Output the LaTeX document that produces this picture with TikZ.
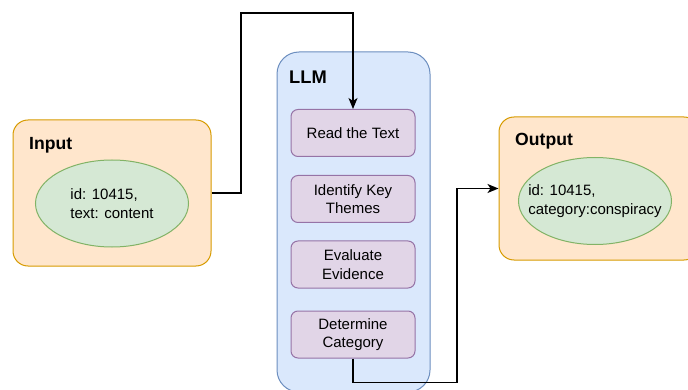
\documentclass[tikz,border=0pt]{standalone}
\usepackage{fontspec}
\setmainfont{Liberation Sans}
\usetikzlibrary{shapes.geometric,arrows.meta}

\definecolor{orfill}{HTML}{FFE6CC}
\definecolor{ordraw}{HTML}{D79B00}
\definecolor{grfill}{HTML}{D5E8D4}
\definecolor{grdraw}{HTML}{82B366}
\definecolor{blfill}{HTML}{DAE8FC}
\definecolor{bldraw}{HTML}{6C8EBF}
\definecolor{pufill}{HTML}{E1D5E7}
\definecolor{pudraw}{HTML}{9673A6}

\tikzset{
  iobox/.style={draw=ordraw, fill=orfill, line width=1pt, rounded corners=15pt, inner sep=0pt},
  llmbox/.style={draw=bldraw, fill=blfill, line width=1pt, rounded corners=22pt, inner sep=0pt,
    minimum width=153pt, minimum height=340pt},
  record/.style={ellipse, draw=grdraw, fill=grfill, line width=1pt, inner sep=0pt,
    minimum width=153pt, minimum height=87pt},
  rectext/.style={inner sep=0pt, align=left, font=\fontsize{15}{18.5}\selectfont},
  stepbox/.style={draw=pudraw, fill=pufill, line width=1pt, rounded corners=7pt, inner sep=0pt,
    minimum width=124pt, minimum height=47pt, align=center,
    font=\fontsize{15}{18.5}\selectfont},
  title/.style={anchor=west, inner sep=0pt, font=\bfseries\fontsize{17.6}{20}\selectfont},
  arr/.style={draw=black, line width=1.3pt, -{Stealth[length=11pt,width=9pt,inset=3pt]}},
}

\begin{document}
\begin{tikzpicture}[x=1pt,y=-1pt]
\useasboundingbox (0,0) rectangle (688,390);
\begin{scope}
\clip (0,0) rectangle (688,390);

% Input block
\node[iobox, minimum width=198pt, minimum height=146pt] (inbox) at (112,193) {};
\node[title] (intitle) at (29,145) {Input};
\node[record] (inrec) at (112,203.5) {};
\node[rectext] (inrectext) at (inrec) {id: 10415,\\text: content};

% LLM block with its steps
\node[llmbox] (llm) at (353.5,222) {};
\node[title, font=\bfseries\fontsize{18.3}{20}\selectfont] (llmtitle) at (289,77) {LLM};
\node[stepbox] (read) at (353,133) {Read the Text};
\node[stepbox] (themes) at (353,199) {Identify Key\\Themes};
\node[stepbox] (evid) at (353,264.5) {Evaluate\\Evidence};
\node[stepbox] (det) at (353,334.5) {Determine\\Category};

% Output block
\node[iobox, minimum width=200pt, minimum height=143pt] (outbox) at (599,188.5) {};
\node[title] (outtitle) at (515,141) {Output};
\node[record] (outrec) at (595,201) {};
\node[rectext] (outrectext) at (outrec) {id: 10415,\\category:conspiracy};

% Connectors
\coordinate (bendA) at (241,13);
\coordinate (bendB) at (457,382.5);
\draw[arr] (inbox.east) -| (bendA) -| (read.north);
\draw[arr] (det.south) |- (bendB) |- (outbox.west);
\end{scope}
\end{tikzpicture}
\end{document}
